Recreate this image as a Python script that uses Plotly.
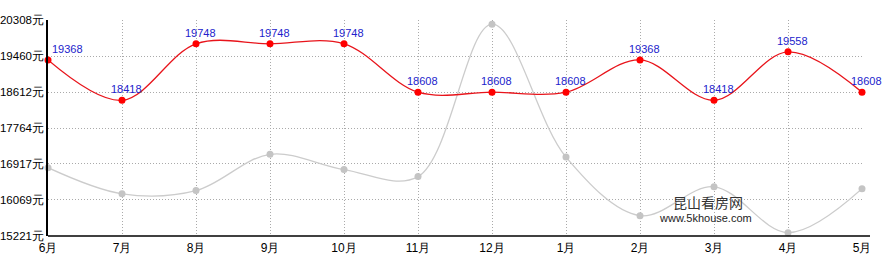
import plotly.graph_objects as go

months = ["6月", "7月", "8月", "9月", "10月", "11月", "12月", "1月", "2月", "3月", "4月", "5月"]
red_values = [19368, 18418, 19748, 19748, 19748, 18608, 18608, 18608, 19368, 18418, 19558, 18608]
gray_values = [16830, 16215, 16290, 17145, 16785, 16620, 20210, 17080, 15700, 16380, 15300, 16335]
y_ticks = [15221, 16069, 16917, 17764, 18612, 19460, 20308]
y_tick_labels = [f"{v}元" for v in y_ticks]

x = list(range(len(months)))
font_family = "Liberation Sans, Arial, sans-serif"

fig = go.Figure()
fig.add_trace(go.Scatter(
    x=x, y=gray_values, mode="lines+markers",
    line=dict(color="#cccccc", width=1.3, shape="spline", smoothing=1),
    marker=dict(color="#c4c4c4", size=7),
    cliponaxis=False, hoverinfo="skip"))
fig.add_trace(go.Scatter(
    x=x, y=red_values, mode="lines+markers",
    line=dict(color="#e8141b", width=1.3, shape="spline", smoothing=1),
    marker=dict(color="#ff0000", size=7),
    cliponaxis=False, hoverinfo="skip"))

annotations = []
for i, v in enumerate(red_values):
    annotations.append(dict(
        x=i, y=v, text=str(v), showarrow=False,
        xanchor="left" if i == 0 else "center", yanchor="middle",
        xshift=2 if i == 0 else 4, yshift=11,
        font=dict(family=font_family, size=11, color="#2222cc")))
annotations.append(dict(xref="paper", yref="paper", x=(708 - 48) / 814, y=(236 - 202) / 216,
                        xanchor="center", yanchor="middle",
                        text="昆山看房网", showarrow=False,
                        font=dict(family="Noto Sans CJK SC", size=14, color="#333333")))
annotations.append(dict(xref="paper", yref="paper", x=(705 - 48) / 814, y=(236 - 218) / 216,
                        xanchor="center", yanchor="middle",
                        text="www.5khouse.com", showarrow=False,
                        font=dict(family=font_family, size=11, color="#222222")))

grid_dash = "1px,2px"
fig.update_layout(
    width=892, height=270,
    margin=dict(l=48, r=30, t=20, b=34, autoexpand=False),
    paper_bgcolor="white", plot_bgcolor="white",
    showlegend=False,
    annotations=annotations,
    font=dict(family=font_family, size=11, color="#000000"),
    xaxis=dict(
        range=[0, len(months) - 1], tickmode="array", tickvals=x, ticktext=months,
        showgrid=True, gridcolor="#aaaaaa", griddash=grid_dash, gridwidth=1,
        showline=False, zeroline=False, ticks="", ticklen=0, automargin=False,
        ticklabelstandoff=3,
        tickfont=dict(family=font_family, size=12, color="#000000")),
    yaxis=dict(
        range=[15221, 20308], tickmode="array", tickvals=y_ticks, ticktext=y_tick_labels,
        showgrid=True, gridcolor="#aaaaaa", griddash=grid_dash, gridwidth=1,
        showline=True, linecolor="#000000", linewidth=1.5, zeroline=False,
        ticks="", automargin=False, ticklabelstandoff=0,
        tickfont=dict(family=font_family, size=11.5, color="#000000")),
    shapes=[dict(type="line", xref="paper", yref="paper", x0=0, x1=1 + 8 / 814, y0=0, y1=0,
                 line=dict(color="#000000", width=1.5))],
)

fig.write_html("out.html")
